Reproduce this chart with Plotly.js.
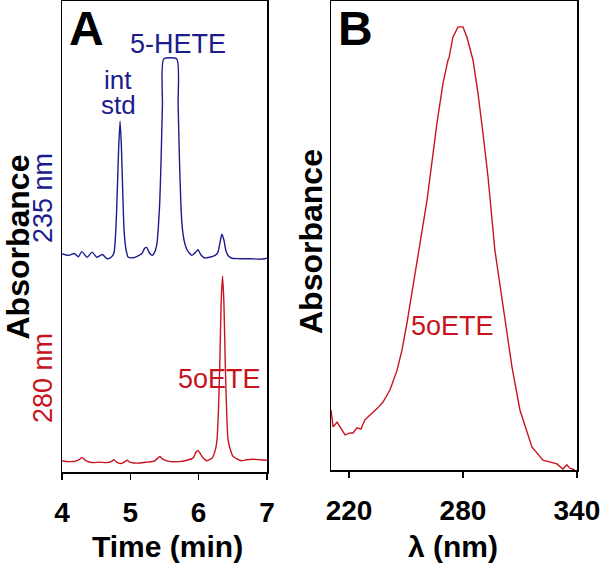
<!DOCTYPE html>
<html>
<head>
<meta charset="utf-8">
<script src="https://cdn.plot.ly/plotly-3.0.1.min.js"></script>
<style>html,body{margin:0;padding:0;background:#fff;}#chart{width:600px;height:566px;}</style>
</head>
<body>
<div id="chart"></div>
<script>
// Panel A: chromatogram at 235 nm (blue), time in min, absorbance arbitrary units
var time235 = [4.00,4.10,4.18,4.24,4.29,4.37,4.44,4.51,4.59,4.66,4.72,4.76,4.79,4.81,4.83,4.85,4.87,4.89,4.91,4.94,4.97,5.04,5.10,5.17,5.21,5.24,5.28,5.32,5.36,5.39,5.41,5.43,5.45,5.47,5.49,5.68,5.70,5.72,5.74,5.76,5.79,5.83,5.90,5.95,5.99,6.03,6.08,6.16,6.24,6.28,6.31,6.34,6.37,6.40,6.44,6.49,6.60,6.75,6.90,7.00];
var abs235  = [46.3,46.0,46.4,45.7,46.8,45.6,46.7,45.6,46.2,45.3,45.6,46.5,52,60,69,74.5,69,59,51,47,45.6,45.5,45.8,46.4,47.5,47.7,46.5,46.0,46.8,48.5,52,57,66,78,87.7,87.7,78,66,57,52,49,47.2,46.0,46.6,47.2,46.2,45.5,45.6,46.0,46.6,48.5,50.5,49.3,47.0,45.8,45.4,45.3,45.3,45.2,45.4];
// Panel A: chromatogram at 280 nm (red)
var time280 = [4.00,4.10,4.20,4.26,4.29,4.33,4.38,4.45,4.55,4.65,4.72,4.76,4.80,4.85,4.90,4.95,4.99,5.05,5.14,5.25,5.35,5.40,5.43,5.47,5.55,5.70,5.83,5.92,5.96,5.99,6.02,6.07,6.12,6.20,6.25,6.27,6.29,6.31,6.33,6.35,6.37,6.39,6.41,6.43,6.46,6.50,6.56,6.63,6.70,6.80,6.90,7.00];
var abs280  = [2.4,2.2,2.3,2.7,3.1,2.6,2.2,2.0,2.1,2.0,2.2,2.6,2.1,1.8,2.0,2.5,2.1,1.9,1.9,2.1,2.3,2.9,3.3,2.8,2.3,2.2,2.5,3.0,4.2,4.6,4.0,2.9,2.4,3.0,5,7,13,23,36,41.6,36,23,13,7,5.0,3.4,2.8,2.4,2.6,2.7,2.6,2.5];
// Panel B: UV spectrum of 5oETE
var lambdaNm = [210.5,211.6,213.7,215.5,217.9,220.6,222.1,224.2,226.3,227.4,228.4,230.5,232.6,235.0,237.9,241.6,245.3,247.9,250.5,254.7,257.4,261.1,266.3,269.5,272.1,272.7,274.7,277.4,280.0,282.1,285.3,287.9,290.5,293.2,296.8,301.1,305.8,310.0,316.3,322.1,329.5,332.6,334.7,336.3,338.9];
var absSpec  = [12.8,9.2,10.2,9.0,7.5,7.9,7.9,9.0,8.7,9.8,10.7,11.5,12.2,13.2,14.5,17.1,21.3,25.6,31.3,42.0,49.0,57.6,74.0,82.5,87.4,88.0,92.3,94.5,94.5,92.3,87.4,80.4,71.9,62.5,46.9,34.8,22.0,12.8,4.9,2.1,1.3,0.2,1.1,0.4,0.0];
var tickTime = [4,5,6,7];
var tickLambda = [220,280,340];

var BLUE = '#1c1c8c';
var RED = '#c8141e';
var FONT = 'Liberation Sans, Arial, Helvetica, sans-serif';

var traces = [
  {x: time235, y: abs235, type: 'scatter', mode: 'lines', line: {color: BLUE, width: 1.4, shape: 'spline', smoothing: 0.6}, xaxis: 'x', yaxis: 'y', hoverinfo: 'skip'},
  {x: time280, y: abs280, type: 'scatter', mode: 'lines', line: {color: RED, width: 1.4, shape: 'spline', smoothing: 0.6}, xaxis: 'x', yaxis: 'y', hoverinfo: 'skip'},
  {x: lambdaNm, y: absSpec, type: 'scatter', mode: 'lines', line: {color: RED, width: 1.4}, xaxis: 'x2', yaxis: 'y2', hoverinfo: 'skip'}
];

var axBase = {
  showline: true, mirror: true, linecolor: '#000', linewidth: 1.5,
  showgrid: false, zeroline: false, fixedrange: true
};
function xax(dom, range, vals) {
  return Object.assign({}, axBase, {
    domain: dom, range: range, tickvals: vals, ticks: 'outside', ticklen: 6, tickwidth: 1.5,
    tickcolor: '#000', ticklabelstandoff: 9, ticklabeloverflow: 'allow',
    tickfont: {family: FONT, size: 28, color: '#000', weight: 700}
  });
}
function yax(dom, anchor) {
  return Object.assign({}, axBase, {domain: dom, range: [0, 100], showticklabels: false, ticks: '', anchor: anchor});
}

function ann(text, x, y, opts) {
  return Object.assign({text: text, x: x, y: y, xref: 'paper', yref: 'paper', showarrow: false,
    xanchor: 'center', yanchor: 'middle'}, opts);
}

var layout = {
  width: 600, height: 566,
  margin: {l: 0, r: 0, t: 0, b: 0},
  paper_bgcolor: '#fff', plot_bgcolor: '#fff',
  showlegend: false,
  font: {family: FONT},
  xaxis: Object.assign(xax([62/600, 267/600], [4, 7.001], tickTime), {anchor: 'y'}),
  yaxis: yax([(566-472)/566, 0.998], 'x'),
  xaxis2: Object.assign(xax([331/600, 577/600], [210.5, 340.05], tickLambda), {anchor: 'y2'}),
  yaxis2: yax([(566-470)/566, 0.998], 'x2'),
  annotations: [
    ann('A', 86/600, (566-28)/566, {font: {size: 48, color: '#000', weight: 700}}),
    ann('B', 355/600, (566-28)/566, {font: {size: 48, color: '#000', weight: 700}}),
    ann('5-HETE', 5.70, 91, {xref: 'x', yref: 'y', font: {size: 27, color: BLUE}}),
    ann('int', 4.82, (472-80)/4.71, {xref: 'x', yref: 'y', font: {size: 26, color: BLUE}}),
    ann('std', 4.82, (472-105)/4.71, {xref: 'x', yref: 'y', font: {size: 26, color: BLUE}}),
    ann('5oETE', 6.31, 19.7, {xref: 'x', yref: 'y', font: {size: 27, color: RED}}),
    ann('5oETE', 274.7, 30.7, {xref: 'x2', yref: 'y2', font: {size: 27, color: RED}}),
    ann('235 nm', 43/600, (566-198)/566, {textangle: -90, font: {size: 27, color: BLUE}}),
    ann('280 nm', 43/600, (566-378)/566, {textangle: -90, font: {size: 27, color: RED}}),
    ann('Absorbance', 17.5/600, (566-247)/566, {textangle: -90, font: {size: 32, color: '#000', weight: 700}}),
    ann('Absorbance', 311/600, (566-242)/566, {textangle: -90, font: {size: 32, color: '#000', weight: 700}}),
    ann('Time (min)', 167/600, (566-546)/566, {font: {size: 30, color: '#000', weight: 700}}),
    ann('λ (nm)', 453/600, (566-546)/566, {font: {size: 30, color: '#000', weight: 700}})
  ]
};

Plotly.newPlot('chart', traces, layout, {displayModeBar: false, staticPlot: true});
</script>
</body>
</html>
